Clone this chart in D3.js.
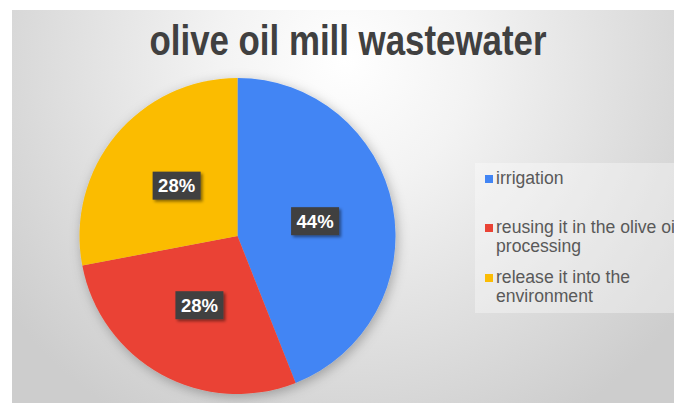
<!DOCTYPE html>
<html>
<head>
<meta charset="utf-8">
<script src="https://cdn.jsdelivr.net/npm/d3@7"></script>
<style>
  html, body { margin: 0; padding: 0; background: #fff; }
  svg { display: block; }
</style>
</head>
<body>
<div class="chart"></div>
<script>
// data
var categories = ["irrigation", "reusing it in the olive oil processing", "release it into the environment"];
var legendLines = [["irrigation"], ["reusing it in the olive oil", "processing"], ["release it into the", "environment"]];
var values = [44, 28, 28];
var colors = ["#4285F4", "#EA4335", "#FBBC04"];
var title = "olive oil mill wastewater";

// Configuration
var width = 674;
var height = 403;
var cx = 237.5, cy = 236, radius = 158;

var svg = d3.select(".chart").append("svg")
    .attr("width", width)
    .attr("height", height);

var defs = svg.append("defs");

// background gradient
var grad = defs.append("radialGradient")
    .attr("id", "bg")
    .attr("gradientUnits", "userSpaceOnUse")
    .attr("cx", 345).attr("cy", 60)
    .attr("r", 420);
grad.append("stop").attr("offset", "0%").attr("stop-color", "#ffffff");
grad.append("stop").attr("offset", "30%").attr("stop-color", "#f3f3f3");
grad.append("stop").attr("offset", "100%").attr("stop-color", "#cdcdcd");

// soft shadow for pie and labels
var shadow = defs.append("filter").attr("id", "pieShadow")
    .attr("x", "-20%").attr("y", "-20%").attr("width", "140%").attr("height", "140%");
shadow.append("feDropShadow")
    .attr("dx", 2).attr("dy", 3)
    .attr("stdDeviation", 6)
    .attr("flood-color", "#000")
    .attr("flood-opacity", 0.28);

var boxShadow = defs.append("filter").attr("id", "boxShadow")
    .attr("x", "-30%").attr("y", "-30%").attr("width", "160%").attr("height", "160%");
boxShadow.append("feDropShadow")
    .attr("dx", 2).attr("dy", 2)
    .attr("stdDeviation", 1.5)
    .attr("flood-color", "#000")
    .attr("flood-opacity", 0.45);

// chart area
svg.append("rect")
    .attr("x", 12).attr("y", 10)
    .attr("width", width - 12).attr("height", height - 10)
    .attr("fill", "url(#bg)");

// title
svg.append("text")
    .attr("x", 348).attr("y", 55)
    .attr("text-anchor", "middle")
    .attr("font-family", "Liberation Sans, Arial, sans-serif")
    .attr("font-weight", "bold")
    .attr("font-size", 43)
    .attr("textLength", 397)
    .attr("lengthAdjust", "spacingAndGlyphs")
    .attr("fill", "#404040")
    .text(title);

// pie
var pie = d3.pie().sort(null).value(function(d) { return d; });
var arcs = pie(values);
var arc = d3.arc().innerRadius(0).outerRadius(radius);

var g = svg.append("g")
    .attr("transform", "translate(" + cx + "," + cy + ")");

g.append("g")
    .style("filter", "url(#pieShadow)")
    .selectAll("path")
    .data(arcs)
    .enter().append("path")
    .attr("fill", function(d, i) { return colors[i]; })
    .attr("d", arc);

// data labels
var total = d3.sum(values);
var labelArc = d3.arc().innerRadius(0).outerRadius(radius);
var lab = g.selectAll("g.lab")
    .data(arcs)
    .enter().append("g")
    .attr("class", "lab")
    .attr("transform", function(d) {
        var c = labelArc.centroid(d);
        return "translate(" + c[0] + "," + c[1] + ")";
    });

lab.append("rect")
    .attr("x", -24).attr("y", -14)
    .attr("width", 48).attr("height", 28)
    .attr("fill", "#404040")
    .style("filter", "url(#boxShadow)");

lab.append("text")
    .attr("text-anchor", "middle")
    .attr("y", 6.5)
    .attr("font-family", "Liberation Sans, Arial, sans-serif")
    .attr("font-weight", "bold")
    .attr("font-size", 18.5)
    .attr("fill", "#fff")
    .text(function(d) { return Math.round(d.value / total * 100) + "%"; });

// legend
svg.append("rect")
    .attr("x", 475).attr("y", 163)
    .attr("width", width - 475).attr("height", 150)
    .attr("fill", "#ffffff")
    .attr("fill-opacity", 0.35);

var legendY = [184, 233, 283];
var leg = svg.selectAll("g.leg")
    .data(categories)
    .enter().append("g")
    .attr("class", "leg")
    .attr("transform", function(d, i) { return "translate(485," + legendY[i] + ")"; });

leg.append("rect")
    .attr("x", 0).attr("y", -9)
    .attr("width", 8).attr("height", 8)
    .attr("fill", function(d, i) { return colors[i]; });

leg.append("text")
    .attr("x", 11)
    .attr("font-family", "Liberation Sans, Arial, sans-serif")
    .attr("font-size", 17.6)
    .attr("fill", "#595959")
    .selectAll("tspan")
    .data(function(d, i) { return legendLines[i]; })
    .enter().append("tspan")
    .attr("x", 11)
    .attr("dy", function(d, j) { return j === 0 ? 0 : 19; })
    .text(function(d) { return d; });
</script>
</body>
</html>
